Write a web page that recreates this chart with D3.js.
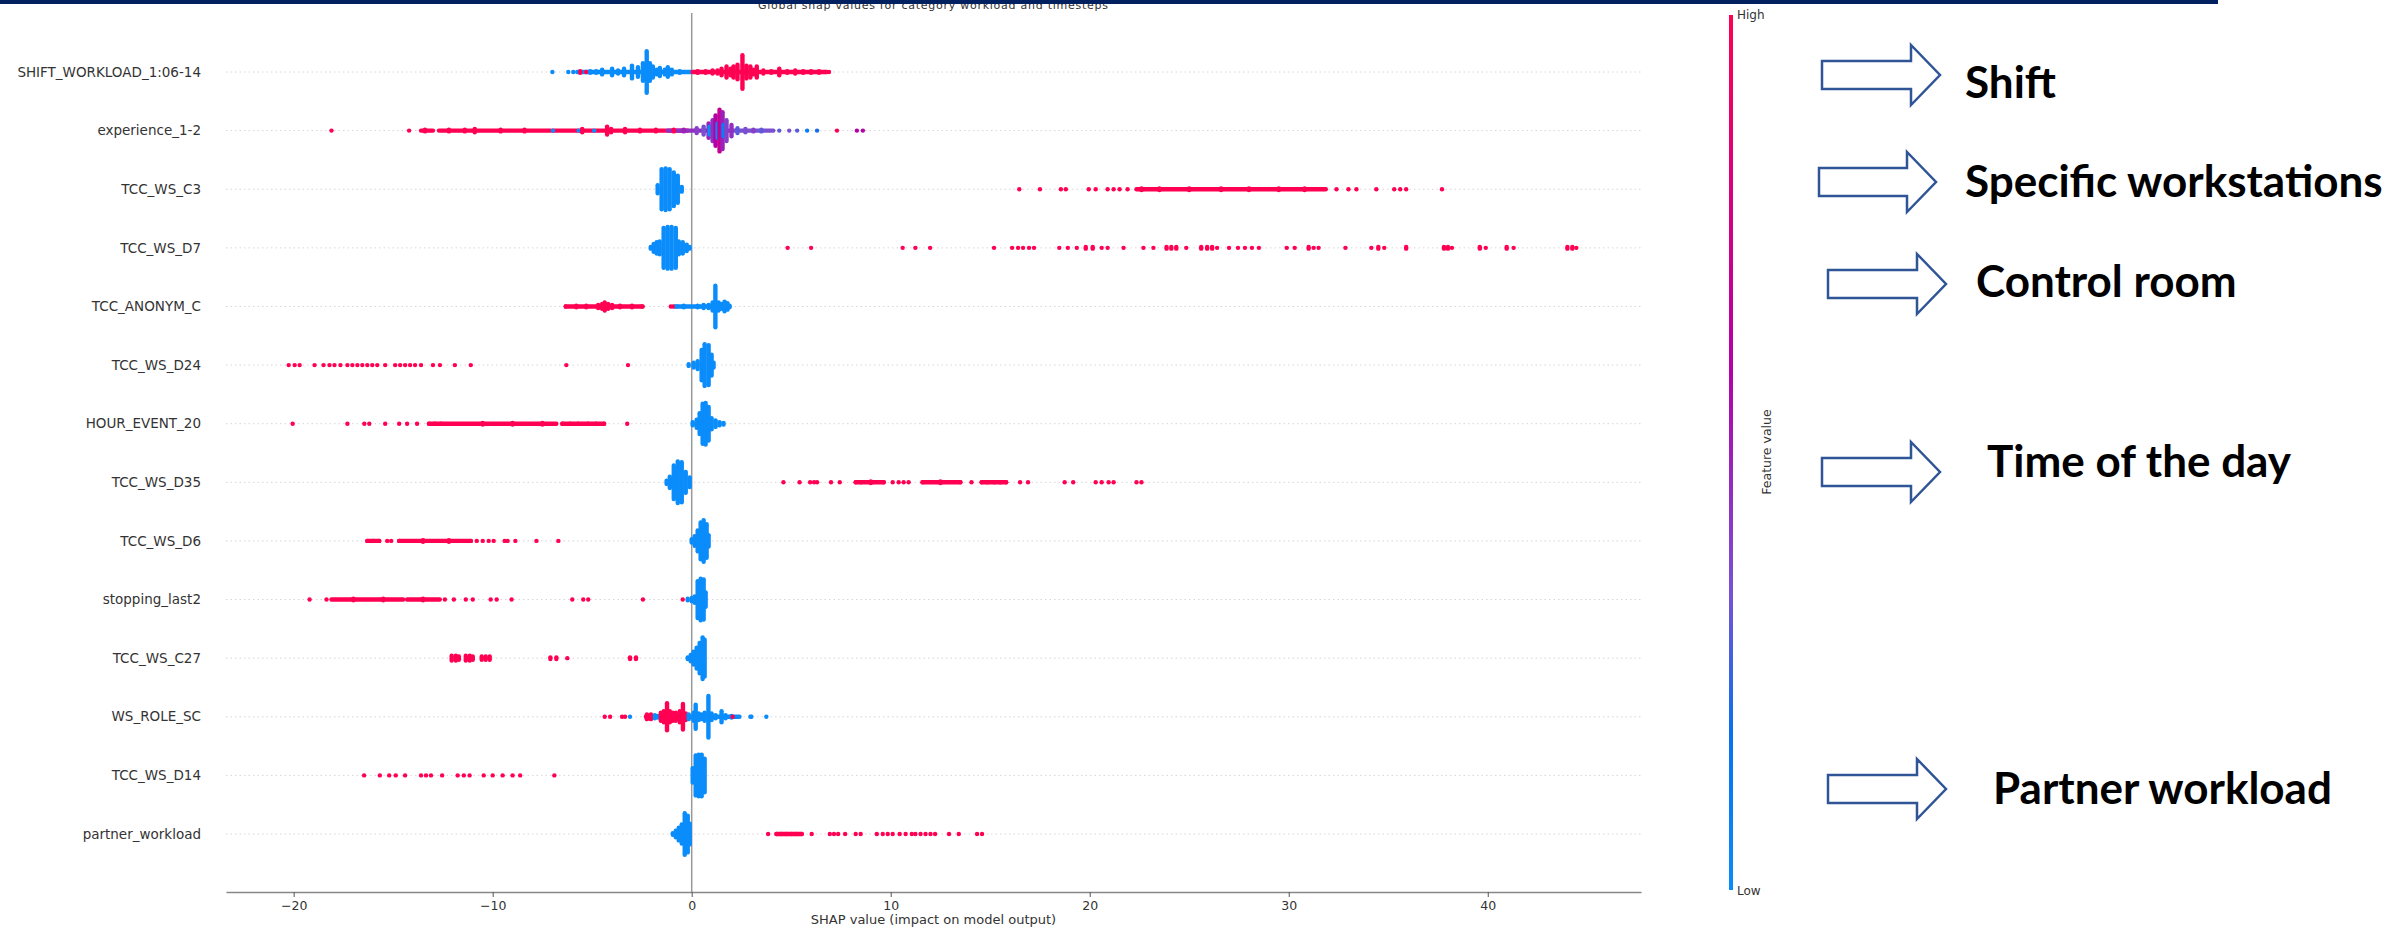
<!DOCTYPE html>
<html>
<head>
<meta charset="utf-8">
<script src="https://cdn.jsdelivr.net/npm/d3@7"></script>
<style>
  body { margin: 0; background: #fff; }
  text { font-family: "DejaVu Sans", sans-serif; }
</style>
</head>
<body>
<div id="chart"></div>
<script>
// features, top to bottom
const features = [
  "SHIFT_WORKLOAD_1:06-14", "experience_1-2", "TCC_WS_C3", "TCC_WS_D7",
  "TCC_ANONYM_C", "TCC_WS_D24", "HOUR_EVENT_20", "TCC_WS_D35", "TCC_WS_D6",
  "stopping_last2", "TCC_WS_C27", "WS_ROLE_SC", "TCC_WS_D14", "partner_workload"
];
const xTicks = [-20, -10, 0, 10, 20, 30, 40];

// piles of samples: [shap value, samples stacked, feature value 0..1]
const shiftPiles = [
  [-7.0,1,0],[-6.2,1,0],[-5.95,1,0],[-5.6,2,1],[-5.3,1,1],[-5.1,2,0],[-4.8,2,0],
  [-4.5,4,0],[-4.0,5,0],[-3.7,3,0],[-3.4,5,0],[-3.0,9,0],[-2.7,7,0],[-2.45,12,0],
  [-2.26,27,0],[-2.1,12,0],[-1.95,8,0],[-1.75,4,0],[-1.6,6,0],[-1.35,4,0],[-1.2,7,0],
  [-1.0,4,0],[-0.6,2,0],
  [0.3,2,1],[0.7,2,1],[1.05,3,1],[1.3,3,1],[1.5,5,1],[1.75,8,1],[1.95,5,1],[2.1,8,1],
  [2.3,10,1],[2.55,22,1],[2.75,9,1],[2.95,8,1],[3.1,4,1],[3.27,8,1],[3.6,3,1],[4.0,2,1],
  [4.4,5,1],[4.8,2,1],[5.2,3,1],[5.6,2,1],[6.0,2,1],[6.4,2,1],[6.9,1,1]
];
const expPiles = [
  [-18.1,1,1],[-14.2,1,1],[-13.4,2,1],[-12.2,2,1],[-11.4,2,1],[-10.9,3,1],[-9.6,2,1],
  [-8.4,2,1],[-6.97,1,0],[-5.68,1,0],[-5.5,3,1],[-4.9,1,0],[-4.25,6,1],[-4.05,3,1],
  [-3.35,3,1],[-2.6,2,1],[-1.8,2,1],[-0.9,2,1],[-0.4,2,0.5],
  [0.25,4,0.4],[0.6,6,0.35],[0.85,10,0.5],[0.9,6,0],[1.05,14,0.45],[1.2,20,0.6],
  [1.3,10,0.05],[1.4,27,0.7],[1.55,24,0.5],[1.6,8,0.1],[1.75,14,0.4],[2.0,8,0.45],
  [2.3,4,0.3],[2.7,3,0.35],[3.1,2,0.4],[3.5,2,0.3],[4.4,1,0.3],[4.9,1,0.35],[5.3,1,0.3],
  [5.8,1,0.1],[6.3,1,0.2],[7.3,1,1],[8.3,1,0.6],[8.6,1,0.6]
];
const c3Piles = [
  [-1.71,6,0],[-1.51,26,0],[-1.31,27,0],[-1.11,26,0],[-0.9,22,0],[-0.7,18,0],[-0.5,4,0],
  [16.46,1,1],[17.5,1,1],[18.55,1,1],[18.8,1,1],[19.95,1,1],[20.3,1,1],[20.9,1,1],
  [21.2,1,1],[21.5,1,1],[21.9,1,1],[22.6,2,1],[23.5,2,1],[25.0,2,1],[26.6,2,1],[28.0,2,1],
  [29.5,2,1],[30.8,2,1],[32.4,1,1],[33.0,1,1],[33.4,1,1],[34.4,1,1],[35.3,1,1],[35.6,1,1],
  [35.9,1,1],[37.7,1,1]
];
const d7Piles = [
  [-2.06,2,0],[-1.91,6,0],[-1.76,8,0],[-1.61,9,0],[-1.41,26,0],[-1.21,27,0],[-1.01,27,0],
  [-0.8,26,0],[-0.65,9,0],[-0.45,8,0],[-0.25,5,0],[-0.1,2,0],
  [4.82,1,1],[6.0,1,1],[10.6,1,1],[11.24,1,1],[11.98,1,1],[15.19,1,1],[16.1,1,1],
  [16.4,1,1],[16.65,1,1],[16.95,1,1],[17.2,1,1],[18.47,1,1],[18.9,1,1],[19.35,1,1],
  [19.8,2,1],[20.15,2,1],[20.6,1,1],[20.9,1,1],[21.7,1,1],[22.7,1,1],[23.2,1,1],
  [23.86,2,1],[24.1,2,1],[24.35,2,1],[24.85,1,1],[25.6,2,1],[25.9,2,1],[26.15,2,1],
  [26.4,1,1],[27.0,1,1],[27.45,1,1],[27.8,1,1],[28.15,1,1],[28.5,1,1],[29.9,1,1],
  [30.3,1,1],[31.0,2,1],[31.25,1,1],[31.5,1,1],[32.85,1,1],[34.15,1,1],[34.5,2,1],
  [34.8,1,1],[35.9,2,1],[37.8,2,1],[38.0,2,1],[38.2,1,1],[39.6,2,1],[39.9,1,1],
  [40.95,2,1],[41.3,1,1],[44.0,2,1],[44.25,2,1],[44.45,1,1]
];
const anonPiles = [
  [-6.33,1,1],[-5.8,2,1],[-5.3,2,1],[-4.7,3,1],[-4.5,4,1],[-4.37,6,1],[-4.2,4,1],
  [-4.0,3,1],[-3.6,2,1],[-3.0,2,1],[-2.5,1,1],[-1.05,1,1],[-0.93,1,1],
  [-0.75,1,0],[-0.4,2,0],[0.3,2,0],[0.6,3,0],[0.85,3,0],[1.05,6,0],[1.19,27,0],
  [1.35,6,0],[1.5,4,0],[1.65,7,0],[1.8,5,0],[1.9,2,0]
];
const d24Piles = [
  [-20.25,1,1],[-19.95,1,1],[-19.7,1,1],[-18.95,1,1],[-18.5,1,1],[-18.2,1,1],
  [-17.95,1,1],[-17.65,1,1],[-17.3,1,1],[-17.05,1,1],[-16.8,1,1],[-16.55,1,1],
  [-16.3,1,1],[-16.05,1,1],[-15.8,1,1],[-15.4,1,1],[-14.9,1,1],[-14.65,1,1],
  [-14.4,1,1],[-14.15,1,1],[-13.9,1,1],[-13.6,1,1],[-13.0,1,1],[-12.65,1,1],
  [-11.9,1,1],[-11.1,1,1],[-6.3,1,1],[-3.2,1,1],
  [-0.15,2,0],[0.1,4,0],[0.3,6,0],[0.5,20,0],[0.65,27,0],[0.85,26,0],[1.0,14,0],[1.1,4,0]
];
const hourPiles = [
  [-20.05,1,1],[-17.3,1,1],[-16.45,1,1],[-16.2,1,1],[-15.4,1,1],[-14.7,1,1],[-14.3,1,1],
  [-13.8,1,1],[-13.2,1,1],[-12.9,1,1],[-12.6,1,1],[-10.5,2,1],[-9.0,2,1],[-7.5,2,1],
  [-6.5,1,1],[-6.1,1,1],[-5.7,1,1],[-5.2,1,1],[-4.8,1,1],[-4.4,1,1],[-3.24,1,1],
  [0.05,3,0],[0.25,6,0],[0.4,14,0],[0.55,26,0],[0.7,27,0],[0.85,22,0],[1.0,8,0],
  [1.2,5,0],[1.4,3,0],[1.6,2,0]
];
const d35Piles = [
  [-1.26,3,0],[-1.1,8,0],[-0.9,22,0],[-0.7,27,0],[-0.5,26,0],[-0.3,14,0],[-0.1,7,0],
  [4.61,1,1],[5.42,1,1],[5.95,1,1],[6.15,1,1],[6.3,1,1],[7.0,1,1],[7.44,1,1],[8.24,1,1],
  [8.5,1,1],[9.0,2,1],[9.65,1,1],[10.1,1,1],[10.4,1,1],[10.65,1,1],[10.9,1,1],[11.6,1,1],
  [12.5,2,1],[13.5,1,1],[14.06,1,1],[14.57,1,1],[14.85,1,1],[15.2,1,1],[15.5,1,1],
  [15.8,1,1],[16.5,1,1],[16.9,1,1],[18.74,1,1],[19.17,1,1],[20.3,1,1],[20.6,1,1],
  [20.95,1,1],[21.2,1,1],[22.35,1,1],[22.6,1,1]
];
const d6Piles = [
  [-16.3,1,1],[-16.0,1,1],[-15.7,1,1],[-15.3,1,1],[-15.1,1,1],[-14.7,1,1],[-13.5,2,1],
  [-12.2,2,1],[-11.1,1,1],[-10.8,1,1],[-10.5,1,1],[-10.2,1,1],[-9.95,1,1],[-9.4,1,1],
  [-9.25,1,1],[-8.86,1,1],[-7.8,1,1],[-6.7,1,1],
  [0,3,0],[0.15,7,0],[0.3,14,0],[0.45,24,0],[0.6,27,0],[0.75,22,0],[0.85,8,0]
];
const stopPiles = [
  [-19.2,1,1],[-18.35,1,1],[-17.0,2,1],[-15.5,2,1],[-13.5,2,1],[-12.4,1,1],[-11.95,1,1],
  [-11.35,1,1],[-11.0,1,1],[-10.1,1,1],[-9.8,1,1],[-9.05,1,1],[-6.0,1,1],[-5.45,1,1],
  [-5.2,1,1],[-2.45,1,1],[-0.45,1,1],
  [-0.2,2,0],[0,3,0],[0.15,5,0],[0.3,24,0],[0.45,27,0],[0.6,26,0],[0.7,10,0]
];
const c27Piles = [
  [-12.06,4,1],[-11.85,4,1],[-11.7,3,1],[-11.35,4,1],[-11.15,4,1],[-11.0,3,1],
  [-10.55,3,1],[-10.35,3,1],[-10.15,3,1],[-7.1,2,1],[-6.8,2,1],[-6.25,1,1],[-3.1,2,1],
  [-2.8,2,1],
  [-0.2,2,0],[-0.05,5,0],[0.1,9,0],[0.25,14,0],[0.4,20,0],[0.55,27,0],[0.65,24,0]
];
const rolePiles = [
  [-4.37,1,1],[-4.1,1,1],[-3.5,1,1],[-3.35,1,1],[-3.1,1,0],[-2.25,4,1],[-2.05,4,1],
  [-1.85,3,0],[-1.7,2,0],[-1.55,6,1],[-1.4,8,1],[-1.24,18,1],[-1.1,8,1],[-0.95,6,1],
  [-0.8,6,1],[-0.6,8,1],[-0.44,17,1],[-0.3,5,1],[-0.15,4,0],
  [0.1,6,0],[0.2,16,0],[0.35,5,0],[0.5,4,0],[0.65,6,0],[0.84,27,0],[1.0,5,0],[1.2,3,0],
  [1.5,8,0],[1.7,3,0],[2.0,2,0],[2.06,1,1],[2.95,1,0],[3.0,1,0],[3.75,1,0]
];
const d14Piles = [
  [-16.46,1,1],[-15.67,1,1],[-15.2,1,1],[-14.87,1,1],[-14.4,1,1],[-13.6,1,1],
  [-13.35,1,1],[-13.1,1,1],[-12.54,1,1],[-11.76,1,1],[-11.45,1,1],[-11.16,1,1],
  [-10.45,1,1],[-10.0,1,1],[-9.5,1,1],[-9.0,1,1],[-8.62,1,1],[-6.9,1,1],
  [0.05,10,0],[0.2,26,0],[0.35,27,0],[0.5,27,0],[0.65,22,0]
];
const partnerPiles = [
  [-0.95,2,0],[-0.8,5,0],[-0.65,9,0],[-0.5,13,0],[-0.35,27,0],[-0.2,24,0],[-0.1,14,0],
  [3.84,1,1],[4.26,1,1],[4.5,1,1],[4.75,1,1],[5.0,1,1],[5.25,1,1],[5.53,1,1],[6.03,1,1],
  [6.94,1,1],[7.15,1,1],[7.36,1,1],[7.71,1,1],[8.24,1,1],[8.49,1,1],[9.3,1,1],[9.6,1,1],
  [9.85,1,1],[10.1,1,1],[10.45,1,1],[10.75,1,1],[11.06,1,1],[11.24,1,1],[11.5,1,1],
  [11.75,1,1],[12.0,1,1],[12.23,1,1],[12.93,1,1],[13.42,1,1],[14.34,1,1],[14.59,1,1]
];

// dense single-file stretches: [feature index, from, to, feature value]
const runs = [
  [0,-5.75,-0.05,0],[0,0.05,6.8,1],
  [1,-13.6,-13.0,1],[1,-12.7,-7.1,1],[1,-7.0,-0.2,1],[1,-1.2,2.0,0.45],[1,2.0,4.1,0.35],
  [2,22.35,31.86,1],
  [4,-6.33,-2.46,1],[4,-0.85,1.9,0],
  [6,-13.2,-6.8,1],[6,-6.5,-4.4,1],
  [7,8.24,9.65,1],[7,11.6,13.5,1],[7,14.57,15.8,1],
  [8,-16.3,-15.7,1],[8,-14.7,-11.1,1],
  [9,-18.1,-14.5,1],[9,-14.3,-12.66,1],
  [11,-2.3,-0.2,1],[11,-0.2,2.4,0],
  [13,4.26,5.53,1]
];

const pileTable = [shiftPiles, expPiles, c3Piles, d7Piles, anonPiles, d24Piles, hourPiles,
  d35Piles, d6Piles, stopPiles, c27Piles, rolePiles, d14Piles, partnerPiles];

// colour map stops (feature value -> colour)
const cmapStops = [0, 0.18, 0.34, 0.6, 1];
const cmapColors = ["#0a8cfb", "#0a70f0", "#7852d2", "#b400a8", "#ff0052"];

// annotations on the right: [label, arrow left, arrow tip, arrow y, text x, text baseline]
const notes = [
  ["Shift", 1822, 1940, 75, 1965, 98],
  ["Specific workstations", 1819, 1936, 182, 1965, 197],
  ["Control room", 1828, 1946, 284, 1976, 297],
  ["Time of the day", 1822, 1940, 472, 1987, 477],
  ["Partner workload", 1828, 1946, 789, 1993, 804]
];

const W = 2389, H = 930;
const svg = d3.select("#chart").append("svg")
  .attr("width", W).attr("height", H)
  .style("background", "#fff");

const x = d3.scaleLinear().domain([-23.4, 47.7]).range([226, 1641]);
const y = d3.scalePoint().domain(features).range([72, 834]);
const color = d3.scaleLinear().domain(cmapStops).range(cmapColors);

const r = 2.2, gap = 1.6;

// title, tucked under the top band as in the original
svg.append("text")
  .attr("x", 933).attr("y", 9)
  .attr("text-anchor", "middle")
  .attr("textLength", 350)
  .style("font-size", "11px")
  .attr("fill", "#333")
  .text("Global shap values for category workload and timesteps");

svg.append("rect")
  .attr("x", 0).attr("y", 0).attr("width", 2218).attr("height", 4)
  .attr("fill", "#002060");

// row guide lines
svg.append("g")
  .selectAll("line")
  .data(features)
  .join("line")
  .attr("x1", x.range()[0]).attr("x2", x.range()[1])
  .attr("y1", (d) => y(d)).attr("y2", (d) => y(d))
  .attr("stroke", "#d6d6d6")
  .attr("stroke-width", 1)
  .attr("stroke-dasharray", "1.5,3");

// zero line
svg.append("line")
  .attr("x1", x(0)).attr("x2", x(0))
  .attr("y1", 13).attr("y2", 892)
  .attr("stroke", "#999")
  .attr("stroke-width", 1.5);

// y labels
svg.append("g")
  .selectAll("text")
  .data(features)
  .join("text")
  .attr("x", 201)
  .attr("y", (d) => y(d))
  .attr("dy", "0.35em")
  .attr("text-anchor", "end")
  .attr("fill", "#333")
  .style("font-size", "13.5px")
  .text((d) => d);

// beeswarm rows: each pile of stacked samples drawn as one solid column
const plot = svg.append("g");
features.forEach((f, i) => {
  const g = plot.append("g");
  g.selectAll("rect.run")
    .data(runs.filter((d) => d[0] === i))
    .join("rect")
    .attr("class", "run")
    .attr("x", (d) => x(d[1]) - r)
    .attr("width", (d) => x(d[2]) - x(d[1]) + 2 * r)
    .attr("y", y(f) - r)
    .attr("height", 2 * r)
    .attr("rx", r)
    .attr("fill", (d) => color(d[3]));

  g.selectAll("rect.pile")
    .data(pileTable[i])
    .join("rect")
    .attr("class", "pile")
    .attr("x", (d) => x(d[0]) - r)
    .attr("width", 2 * r)
    .attr("y", (d) => y(f) - ((d[1] - 1) / 2) * gap - r)
    .attr("height", (d) => (d[1] - 1) * gap + 2 * r)
    .attr("rx", r)
    .attr("fill", (d) => color(d[2]));
});

// x axis
const xAxis = svg.append("g")
  .attr("transform", "translate(0,892)")
  .call(d3.axisBottom(x).tickValues(xTicks).tickSize(5).tickSizeOuter(0).tickPadding(4));
xAxis.select(".domain").attr("stroke", "#888").attr("stroke-width", 1.5);
xAxis.selectAll(".tick line").attr("stroke", "#555");
xAxis.selectAll(".tick text")
  .attr("fill", "#333")
  .style("font-size", "12.5px")
  .style("font-family", "DejaVu Sans");

svg.append("text")
  .attr("x", (x.range()[0] + x.range()[1]) / 2)
  .attr("y", 924)
  .attr("text-anchor", "middle")
  .attr("fill", "#333")
  .style("font-size", "13px")
  .text("SHAP value (impact on model output)");

// colour bar
const defs = svg.append("defs");
const grad = defs.append("linearGradient")
  .attr("id", "cbar")
  .attr("x1", 0).attr("y1", 1).attr("x2", 0).attr("y2", 0);
grad.selectAll("stop")
  .data(cmapStops)
  .join("stop")
  .attr("offset", (d) => d)
  .attr("stop-color", (d) => color(d));

svg.append("rect")
  .attr("x", 1729).attr("y", 15)
  .attr("width", 4).attr("height", 875)
  .attr("fill", "url(#cbar)");

svg.append("text")
  .attr("x", 1737).attr("y", 15).attr("dy", "0.35em")
  .attr("fill", "#333").style("font-size", "12px")
  .text("High");
svg.append("text")
  .attr("x", 1737).attr("y", 891).attr("dy", "0.35em")
  .attr("fill", "#333").style("font-size", "12px")
  .text("Low");
svg.append("text")
  .attr("transform", "translate(1767,452) rotate(-90)")
  .attr("text-anchor", "middle")
  .attr("dy", "0.35em")
  .attr("fill", "#333").style("font-size", "12.5px")
  .text("Feature value");

// annotations
const ann = svg.append("g").attr("class", "notes");
notes.forEach(([label, x0, tip, ay, tx, ty]) => {
  const head = tip - 29;
  const pts = [
    [x0, ay - 14], [head, ay - 14], [head, ay - 30], [tip, ay],
    [head, ay + 30], [head, ay + 14], [x0, ay + 14]
  ];
  ann.append("polygon")
    .attr("points", pts.map((p) => p.join(",")).join(" "))
    .attr("fill", "#fff")
    .attr("stroke", "#2f5597")
    .attr("stroke-width", 2.5);
  ann.append("text")
    .attr("x", tx).attr("y", ty)
    .style("font-family", "Lato, 'Open Sans', sans-serif")
    .style("font-weight", "bold")
    .style("font-size", "44px")
    .attr("fill", "#000")
    .text(label);
});
</script>
</body>
</html>
